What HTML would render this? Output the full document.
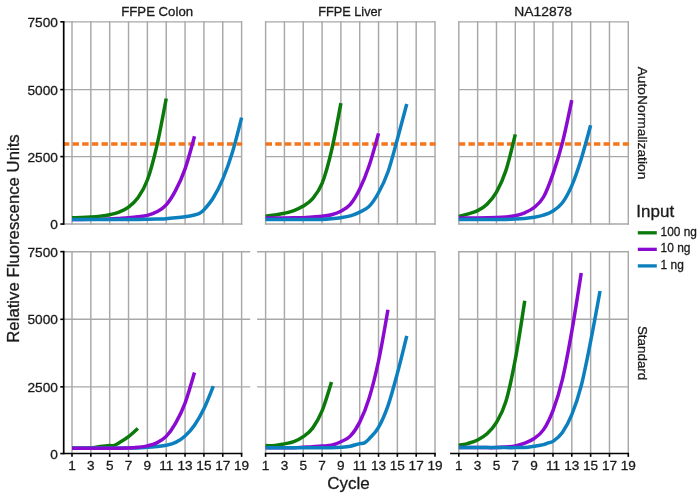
<!DOCTYPE html>
<html lang="en"><head><meta charset="utf-8"><title>Amplification curves</title>
<style>html,body{margin:0;padding:0;background:#fff}body{width:700px;height:498px;overflow:hidden}svg{display:block;filter:blur(0.35px)}text{font-family:"Liberation Sans", Arial, sans-serif;fill:#1a1a1a;stroke:#1a1a1a;stroke-width:0.3px}</style>
</head><body>
<svg width="700" height="498" viewBox="0 0 700 498">
<rect width="700" height="498" fill="#fff"/>
<g fill="none">
<line x1="72.00" y1="21.12" x2="72.00" y2="224.78" stroke="#a8a8a8" stroke-width="1.45"/>
<line x1="90.84" y1="21.12" x2="90.84" y2="224.78" stroke="#a8a8a8" stroke-width="1.45"/>
<line x1="109.69" y1="21.12" x2="109.69" y2="224.78" stroke="#a8a8a8" stroke-width="1.45"/>
<line x1="128.53" y1="21.12" x2="128.53" y2="224.78" stroke="#a8a8a8" stroke-width="1.45"/>
<line x1="147.38" y1="21.12" x2="147.38" y2="224.78" stroke="#a8a8a8" stroke-width="1.45"/>
<line x1="166.22" y1="21.12" x2="166.22" y2="224.78" stroke="#a8a8a8" stroke-width="1.45"/>
<line x1="185.07" y1="21.12" x2="185.07" y2="224.78" stroke="#a8a8a8" stroke-width="1.45"/>
<line x1="203.91" y1="21.12" x2="203.91" y2="224.78" stroke="#a8a8a8" stroke-width="1.45"/>
<line x1="222.76" y1="21.12" x2="222.76" y2="224.78" stroke="#a8a8a8" stroke-width="1.45"/>
<line x1="241.60" y1="21.12" x2="241.60" y2="224.78" stroke="#a8a8a8" stroke-width="1.45"/>
<line x1="63.70" y1="21.85" x2="241.60" y2="21.85" stroke="#a8a8a8" stroke-width="1.45"/>
<line x1="63.70" y1="89.60" x2="241.60" y2="89.60" stroke="#a8a8a8" stroke-width="1.45"/>
<line x1="63.70" y1="156.60" x2="241.60" y2="156.60" stroke="#a8a8a8" stroke-width="1.45"/>
<line x1="63.70" y1="224.05" x2="242.32" y2="224.05" stroke="#a8a8a8" stroke-width="1.45"/>
<line x1="265.60" y1="21.12" x2="265.60" y2="224.78" stroke="#a8a8a8" stroke-width="1.45"/>
<line x1="284.42" y1="21.12" x2="284.42" y2="224.78" stroke="#a8a8a8" stroke-width="1.45"/>
<line x1="303.24" y1="21.12" x2="303.24" y2="224.78" stroke="#a8a8a8" stroke-width="1.45"/>
<line x1="322.07" y1="21.12" x2="322.07" y2="224.78" stroke="#a8a8a8" stroke-width="1.45"/>
<line x1="340.89" y1="21.12" x2="340.89" y2="224.78" stroke="#a8a8a8" stroke-width="1.45"/>
<line x1="359.71" y1="21.12" x2="359.71" y2="224.78" stroke="#a8a8a8" stroke-width="1.45"/>
<line x1="378.53" y1="21.12" x2="378.53" y2="224.78" stroke="#a8a8a8" stroke-width="1.45"/>
<line x1="397.36" y1="21.12" x2="397.36" y2="224.78" stroke="#a8a8a8" stroke-width="1.45"/>
<line x1="416.18" y1="21.12" x2="416.18" y2="224.78" stroke="#a8a8a8" stroke-width="1.45"/>
<line x1="435.00" y1="21.12" x2="435.00" y2="224.78" stroke="#a8a8a8" stroke-width="1.45"/>
<line x1="265.60" y1="21.85" x2="435.00" y2="21.85" stroke="#a8a8a8" stroke-width="1.45"/>
<line x1="265.60" y1="89.60" x2="435.00" y2="89.60" stroke="#a8a8a8" stroke-width="1.45"/>
<line x1="265.60" y1="156.60" x2="435.00" y2="156.60" stroke="#a8a8a8" stroke-width="1.45"/>
<line x1="265.60" y1="224.05" x2="435.73" y2="224.05" stroke="#a8a8a8" stroke-width="1.45"/>
<line x1="458.80" y1="21.12" x2="458.80" y2="224.78" stroke="#a8a8a8" stroke-width="1.45"/>
<line x1="477.63" y1="21.12" x2="477.63" y2="224.78" stroke="#a8a8a8" stroke-width="1.45"/>
<line x1="496.47" y1="21.12" x2="496.47" y2="224.78" stroke="#a8a8a8" stroke-width="1.45"/>
<line x1="515.30" y1="21.12" x2="515.30" y2="224.78" stroke="#a8a8a8" stroke-width="1.45"/>
<line x1="534.13" y1="21.12" x2="534.13" y2="224.78" stroke="#a8a8a8" stroke-width="1.45"/>
<line x1="552.97" y1="21.12" x2="552.97" y2="224.78" stroke="#a8a8a8" stroke-width="1.45"/>
<line x1="571.80" y1="21.12" x2="571.80" y2="224.78" stroke="#a8a8a8" stroke-width="1.45"/>
<line x1="590.63" y1="21.12" x2="590.63" y2="224.78" stroke="#a8a8a8" stroke-width="1.45"/>
<line x1="609.47" y1="21.12" x2="609.47" y2="224.78" stroke="#a8a8a8" stroke-width="1.45"/>
<line x1="628.30" y1="21.12" x2="628.30" y2="224.78" stroke="#a8a8a8" stroke-width="1.45"/>
<line x1="458.80" y1="21.85" x2="628.30" y2="21.85" stroke="#a8a8a8" stroke-width="1.45"/>
<line x1="458.80" y1="89.60" x2="628.30" y2="89.60" stroke="#a8a8a8" stroke-width="1.45"/>
<line x1="458.80" y1="156.60" x2="628.30" y2="156.60" stroke="#a8a8a8" stroke-width="1.45"/>
<line x1="458.80" y1="224.05" x2="629.02" y2="224.05" stroke="#a8a8a8" stroke-width="1.45"/>
<line x1="72.00" y1="250.93" x2="72.00" y2="453.56" stroke="#a8a8a8" stroke-width="1.45"/>
<line x1="90.84" y1="250.93" x2="90.84" y2="453.56" stroke="#a8a8a8" stroke-width="1.45"/>
<line x1="109.69" y1="250.93" x2="109.69" y2="453.56" stroke="#a8a8a8" stroke-width="1.45"/>
<line x1="128.53" y1="250.93" x2="128.53" y2="453.56" stroke="#a8a8a8" stroke-width="1.45"/>
<line x1="147.38" y1="250.93" x2="147.38" y2="453.56" stroke="#a8a8a8" stroke-width="1.45"/>
<line x1="166.22" y1="250.93" x2="166.22" y2="453.56" stroke="#a8a8a8" stroke-width="1.45"/>
<line x1="185.07" y1="250.93" x2="185.07" y2="453.56" stroke="#a8a8a8" stroke-width="1.45"/>
<line x1="203.91" y1="250.93" x2="203.91" y2="453.56" stroke="#a8a8a8" stroke-width="1.45"/>
<line x1="222.76" y1="250.93" x2="222.76" y2="453.56" stroke="#a8a8a8" stroke-width="1.45"/>
<line x1="241.60" y1="250.93" x2="241.60" y2="453.56" stroke="#a8a8a8" stroke-width="1.45"/>
<line x1="63.70" y1="251.65" x2="250.20" y2="251.65" stroke="#a8a8a8" stroke-width="1.45"/>
<line x1="63.70" y1="319.30" x2="250.20" y2="319.30" stroke="#a8a8a8" stroke-width="1.45"/>
<line x1="63.70" y1="386.85" x2="250.20" y2="386.85" stroke="#a8a8a8" stroke-width="1.45"/>
<line x1="265.60" y1="250.93" x2="265.60" y2="453.56" stroke="#a8a8a8" stroke-width="1.45"/>
<line x1="284.42" y1="250.93" x2="284.42" y2="453.56" stroke="#a8a8a8" stroke-width="1.45"/>
<line x1="303.24" y1="250.93" x2="303.24" y2="453.56" stroke="#a8a8a8" stroke-width="1.45"/>
<line x1="322.07" y1="250.93" x2="322.07" y2="453.56" stroke="#a8a8a8" stroke-width="1.45"/>
<line x1="340.89" y1="250.93" x2="340.89" y2="453.56" stroke="#a8a8a8" stroke-width="1.45"/>
<line x1="359.71" y1="250.93" x2="359.71" y2="453.56" stroke="#a8a8a8" stroke-width="1.45"/>
<line x1="378.53" y1="250.93" x2="378.53" y2="453.56" stroke="#a8a8a8" stroke-width="1.45"/>
<line x1="397.36" y1="250.93" x2="397.36" y2="453.56" stroke="#a8a8a8" stroke-width="1.45"/>
<line x1="416.18" y1="250.93" x2="416.18" y2="453.56" stroke="#a8a8a8" stroke-width="1.45"/>
<line x1="435.00" y1="250.93" x2="435.00" y2="453.56" stroke="#a8a8a8" stroke-width="1.45"/>
<line x1="257.10" y1="251.65" x2="435.00" y2="251.65" stroke="#a8a8a8" stroke-width="1.45"/>
<line x1="257.10" y1="319.30" x2="435.00" y2="319.30" stroke="#a8a8a8" stroke-width="1.45"/>
<line x1="257.10" y1="386.85" x2="435.00" y2="386.85" stroke="#a8a8a8" stroke-width="1.45"/>
<line x1="458.80" y1="250.93" x2="458.80" y2="453.56" stroke="#a8a8a8" stroke-width="1.45"/>
<line x1="477.63" y1="250.93" x2="477.63" y2="453.56" stroke="#a8a8a8" stroke-width="1.45"/>
<line x1="496.47" y1="250.93" x2="496.47" y2="453.56" stroke="#a8a8a8" stroke-width="1.45"/>
<line x1="515.30" y1="250.93" x2="515.30" y2="453.56" stroke="#a8a8a8" stroke-width="1.45"/>
<line x1="534.13" y1="250.93" x2="534.13" y2="453.56" stroke="#a8a8a8" stroke-width="1.45"/>
<line x1="552.97" y1="250.93" x2="552.97" y2="453.56" stroke="#a8a8a8" stroke-width="1.45"/>
<line x1="571.80" y1="250.93" x2="571.80" y2="453.56" stroke="#a8a8a8" stroke-width="1.45"/>
<line x1="590.63" y1="250.93" x2="590.63" y2="453.56" stroke="#a8a8a8" stroke-width="1.45"/>
<line x1="609.47" y1="250.93" x2="609.47" y2="453.56" stroke="#a8a8a8" stroke-width="1.45"/>
<line x1="628.30" y1="250.93" x2="628.30" y2="453.56" stroke="#a8a8a8" stroke-width="1.45"/>
<line x1="458.80" y1="251.65" x2="628.30" y2="251.65" stroke="#a8a8a8" stroke-width="1.45"/>
<line x1="458.80" y1="319.30" x2="628.30" y2="319.30" stroke="#a8a8a8" stroke-width="1.45"/>
<line x1="458.80" y1="386.85" x2="628.30" y2="386.85" stroke="#a8a8a8" stroke-width="1.45"/>
</g>
<line x1="62.90" y1="144.00" x2="242.10" y2="144.00" stroke="#f6751a" stroke-width="3.4" stroke-dasharray="6.4 3.25"/>
<line x1="265.60" y1="144.00" x2="435.50" y2="144.00" stroke="#f6751a" stroke-width="3.4" stroke-dasharray="6.4 3.25"/>
<line x1="458.80" y1="144.00" x2="628.80" y2="144.00" stroke="#f6751a" stroke-width="3.4" stroke-dasharray="6.4 3.25"/>
<g fill="none" stroke-width="3.5" stroke-linejoin="round" stroke-linecap="butt">
<path d="M72.00 219.38C75.14 219.38 78.28 219.39 81.42 219.38C84.56 219.38 87.70 219.36 90.84 219.33C93.99 219.30 97.13 219.28 100.27 219.22C103.41 219.16 106.55 219.11 109.69 218.98C112.83 218.85 115.97 218.63 119.11 218.44C122.25 218.25 125.39 218.09 128.53 217.82C131.67 217.55 134.81 217.24 137.96 216.82C141.10 216.41 144.24 216.17 147.38 215.34C150.52 214.51 153.66 213.58 156.80 211.83C159.94 210.08 163.08 208.39 166.22 204.82C169.36 201.24 172.50 196.39 175.64 190.39C178.79 184.39 181.93 177.82 185.07 168.81C188.21 159.80 191.35 148.05 194.49 136.31" stroke="#8b0ad2"/>
<path d="M72.00 217.82C75.14 217.73 78.28 217.69 81.42 217.55C84.56 217.41 87.70 217.22 90.84 216.98C93.99 216.75 97.13 216.50 100.27 216.12C103.41 215.74 106.55 215.36 109.69 214.69C112.83 214.02 115.97 213.37 119.11 212.10C122.25 210.83 125.39 209.47 128.53 207.08C131.67 204.70 134.81 202.29 137.96 197.78C141.10 193.27 144.24 188.63 147.38 180.00C150.52 171.38 153.66 159.59 156.80 146.02C159.94 132.44 163.08 115.49 166.22 98.54" stroke="#0b7a0b"/>
<path d="M72.00 219.60C75.14 219.60 78.28 219.60 81.42 219.60C84.56 219.60 87.70 219.60 90.84 219.60C93.99 219.60 97.13 219.60 100.27 219.60C103.41 219.60 106.55 219.60 109.69 219.60C112.83 219.60 115.97 219.60 119.11 219.60C122.25 219.60 125.39 219.59 128.53 219.57C131.67 219.56 134.81 219.53 137.96 219.49C141.10 219.45 144.24 219.40 147.38 219.33C150.52 219.26 153.66 219.17 156.80 219.06C159.94 218.95 163.08 218.89 166.22 218.68C169.36 218.48 172.50 218.15 175.64 217.82C178.79 217.49 181.93 217.16 185.07 216.69C188.21 216.21 191.35 215.65 194.49 214.96C196.06 214.62 197.63 214.42 199.20 213.58C200.77 212.75 202.34 211.70 203.91 209.94C207.05 206.43 210.19 202.91 213.33 197.78C216.47 192.65 219.61 186.63 222.76 179.17C225.90 171.71 229.04 163.29 232.18 153.03C235.32 142.77 238.46 130.18 241.60 117.59" stroke="#0c80bf"/>
<path d="M265.60 216.12C268.74 215.73 271.87 215.44 275.01 214.96C278.15 214.48 281.29 213.98 284.42 213.26C287.56 212.55 290.70 211.87 293.83 210.67C296.97 209.48 300.11 208.11 303.24 206.09C306.38 204.06 309.52 202.28 312.66 198.51C315.79 194.74 318.93 191.39 322.07 183.46C325.20 175.52 328.34 164.26 331.48 150.87C334.61 137.48 337.75 120.31 340.89 103.13" stroke="#0b7a0b"/>
<path d="M265.60 217.98C268.74 217.98 271.87 217.99 275.01 217.98C278.15 217.98 281.29 217.97 284.42 217.95C287.56 217.94 290.70 217.93 293.83 217.87C296.97 217.82 300.11 217.77 303.24 217.63C306.38 217.49 309.52 217.22 312.66 217.01C315.79 216.80 318.93 216.75 322.07 216.36C325.20 215.98 328.34 215.55 331.48 214.69C334.61 213.84 337.75 212.97 340.89 211.24C344.03 209.50 347.16 208.00 350.30 204.28C353.44 200.56 356.57 195.33 359.71 188.90C362.85 182.48 365.99 174.97 369.12 165.71C372.26 156.45 375.40 144.89 378.53 133.34" stroke="#8b0ad2"/>
<path d="M265.60 219.44C268.74 219.44 271.87 219.44 275.01 219.44C278.15 219.44 281.29 219.44 284.42 219.44C287.56 219.44 290.70 219.44 293.83 219.44C296.97 219.44 300.11 219.44 303.24 219.44C306.38 219.44 309.52 219.45 312.66 219.44C315.79 219.43 318.93 219.49 322.07 219.38C325.20 219.28 328.34 219.07 331.48 218.79C334.61 218.51 337.75 218.20 340.89 217.71C344.03 217.23 347.16 216.81 350.30 215.88C353.44 214.94 356.57 213.68 359.71 212.10C362.85 210.52 365.99 209.61 369.12 206.38C372.26 203.16 375.40 198.49 378.53 192.76C381.67 187.03 384.81 180.93 387.94 172.02C391.08 163.10 394.22 150.62 397.36 139.27C400.49 127.93 403.63 115.93 406.77 103.94" stroke="#0c80bf"/>
<path d="M458.80 216.39C461.94 215.54 465.08 214.78 468.22 213.83C471.36 212.87 474.49 212.27 477.63 210.67C480.77 209.07 483.91 207.33 487.05 204.23C490.19 201.12 493.33 197.67 496.47 192.06C499.61 186.45 502.74 180.20 505.88 170.59C509.02 160.98 512.16 147.70 515.30 134.42" stroke="#0b7a0b"/>
<path d="M458.80 217.98C461.94 217.98 465.08 217.99 468.22 217.98C471.36 217.98 474.49 217.98 477.63 217.95C480.77 217.93 483.91 217.89 487.05 217.82C490.19 217.75 493.33 217.69 496.47 217.55C499.61 217.41 502.74 217.27 505.88 216.96C509.02 216.65 512.16 216.38 515.30 215.69C518.44 215.00 521.58 214.19 524.72 212.83C527.86 211.47 530.99 210.15 534.13 207.52C537.27 204.88 540.41 202.62 543.55 197.00C546.69 191.38 549.83 182.81 552.97 173.80C556.11 164.79 559.24 155.21 562.38 142.91C565.52 130.62 568.66 115.32 571.80 100.03" stroke="#8b0ad2"/>
<path d="M458.80 219.52C461.94 219.52 465.08 219.52 468.22 219.52C471.36 219.52 474.49 219.52 477.63 219.52C480.77 219.52 483.91 219.52 487.05 219.52C490.19 219.51 493.33 219.51 496.47 219.49C499.61 219.47 502.74 219.46 505.88 219.38C509.02 219.31 512.16 219.22 515.30 219.06C518.44 218.90 521.58 218.71 524.72 218.41C527.86 218.11 530.99 217.80 534.13 217.25C537.27 216.70 540.41 216.16 543.55 215.12C546.69 214.08 549.83 213.08 552.97 211.02C556.11 208.97 559.24 207.03 562.38 202.80C565.52 198.56 568.66 192.92 571.80 185.61C574.94 178.31 578.08 169.03 581.22 158.96C584.36 148.90 587.49 137.08 590.63 125.25" stroke="#0c80bf"/>
<path d="M72.00 448.35C75.14 448.35 78.28 448.40 81.42 448.35C84.56 448.31 87.70 448.38 90.84 448.08C93.99 447.78 97.13 446.97 100.27 446.55C103.41 446.12 106.55 445.74 109.69 445.52C110.95 445.44 112.20 446.01 113.46 445.66C115.34 445.13 117.23 443.98 119.11 442.86C122.25 440.99 125.39 439.10 128.53 436.69C131.67 434.29 134.81 431.36 137.96 428.43" stroke="#0b7a0b"/>
<path d="M72.00 447.89C75.14 447.89 78.28 447.89 81.42 447.89C84.56 447.89 87.70 447.89 90.84 447.89C93.99 447.89 97.13 447.88 100.27 447.89C103.41 447.90 106.55 447.93 109.69 447.95C112.83 447.96 115.97 447.98 119.11 448.00C122.25 448.02 125.39 448.06 128.53 448.05C131.67 448.05 134.81 448.08 137.96 447.95C141.10 447.81 144.24 447.51 147.38 447.25C150.52 446.99 153.66 446.71 156.80 446.39C159.94 446.06 163.08 445.94 166.22 445.28C169.36 444.62 172.50 443.98 175.64 442.43C178.79 440.88 181.93 438.86 185.07 435.99C188.21 433.13 191.35 429.79 194.49 425.25C197.63 420.72 200.77 415.30 203.91 408.78C207.05 402.25 210.19 394.18 213.33 386.11" stroke="#0c80bf"/>
<path d="M72.00 448.22C75.14 448.22 78.28 448.22 81.42 448.22C84.56 448.22 87.70 448.22 90.84 448.22C93.99 448.22 97.13 448.22 100.27 448.22C103.41 448.22 106.55 448.22 109.69 448.22C112.83 448.22 115.97 448.24 119.11 448.22C122.25 448.19 125.39 448.24 128.53 448.08C131.67 447.92 134.81 447.65 137.96 447.27C141.10 446.90 144.24 446.59 147.38 445.85C150.52 445.11 153.66 444.41 156.80 442.83C159.94 441.25 163.08 439.66 166.22 436.37C169.36 433.08 172.50 428.65 175.64 423.10C178.79 417.55 181.93 411.49 185.07 403.04C188.21 394.60 191.35 383.50 194.49 372.41" stroke="#8b0ad2"/>
<path d="M265.60 445.58C268.74 445.58 271.87 445.86 275.01 445.58C278.15 445.29 281.29 444.50 284.42 443.85C287.56 443.21 290.70 442.89 293.83 441.70C296.97 440.51 300.11 438.96 303.24 436.69C306.38 434.43 309.52 432.40 312.66 428.11C315.79 423.81 318.93 418.60 322.07 410.93C325.20 403.26 328.34 392.67 331.48 382.07" stroke="#0b7a0b"/>
<path d="M265.60 447.87C268.74 447.87 271.87 447.87 275.01 447.87C278.15 447.86 281.29 447.87 284.42 447.84C287.56 447.81 290.70 447.79 293.83 447.68C296.97 447.57 300.11 447.35 303.24 447.19C306.38 447.04 309.52 446.93 312.66 446.74C315.79 446.54 318.93 446.25 322.07 446.01C325.20 445.77 328.34 446.00 331.48 445.28C334.61 444.56 337.75 443.23 340.89 441.70C344.03 440.17 347.16 439.37 350.30 436.10C353.44 432.84 356.57 428.43 359.71 422.10C362.85 415.78 365.99 408.33 369.12 398.14C372.26 387.96 375.40 375.73 378.53 361.00C381.67 346.26 384.81 328.00 387.94 309.74" stroke="#8b0ad2"/>
<path d="M265.60 447.87C268.74 447.87 271.87 447.87 275.01 447.87C278.15 447.87 281.29 447.87 284.42 447.87C287.56 447.87 290.70 447.87 293.83 447.87C296.97 447.87 300.11 447.87 303.24 447.87C306.38 447.87 309.52 447.87 312.66 447.87C315.79 447.87 318.93 447.88 322.07 447.87C325.20 447.85 328.34 447.88 331.48 447.79C334.61 447.69 337.75 447.54 340.89 447.27C344.03 447.00 347.16 446.78 350.30 446.17C353.44 445.56 356.57 444.38 359.71 443.64C361.28 443.27 362.85 443.63 364.42 442.83C365.99 442.03 367.55 440.56 369.12 438.85C372.26 435.41 375.40 432.87 378.53 427.38C381.67 421.89 384.81 414.90 387.94 405.90C391.08 396.90 394.22 385.06 397.36 373.38C400.49 361.70 403.63 348.76 406.77 335.82" stroke="#0c80bf"/>
<path d="M458.80 445.39C461.94 444.72 465.08 444.27 468.22 443.37C471.36 442.47 474.49 441.59 477.63 440.01C480.77 438.42 483.91 436.78 487.05 433.84C490.19 430.90 493.33 427.74 496.47 422.37C499.61 417.00 502.74 412.12 505.88 401.62C509.02 391.12 512.16 376.17 515.30 359.38C518.44 342.59 521.58 321.72 524.72 300.86" stroke="#0b7a0b"/>
<path d="M458.80 447.62C461.94 447.62 465.08 447.62 468.22 447.62C471.36 447.62 474.49 447.62 477.63 447.62C480.77 447.62 483.91 447.63 487.05 447.62C490.19 447.61 493.33 447.70 496.47 447.57C499.61 447.44 502.74 447.14 505.88 446.87C509.02 446.60 512.16 446.55 515.30 445.93C518.44 445.31 521.58 444.39 524.72 443.16C527.86 441.92 530.99 440.78 534.13 438.52C537.27 436.27 540.41 434.31 543.55 429.64C546.69 424.98 549.83 418.87 552.97 410.53C556.11 402.18 559.24 392.76 562.38 379.57C565.52 366.38 568.66 349.14 571.80 331.38C574.94 313.63 578.08 293.34 581.22 273.05" stroke="#8b0ad2"/>
<path d="M458.80 447.62C461.94 447.62 465.08 447.62 468.22 447.62C471.36 447.62 474.49 447.62 477.63 447.62C480.77 447.62 483.91 447.62 487.05 447.62C490.19 447.62 493.33 447.62 496.47 447.62C499.61 447.62 502.74 447.62 505.88 447.62C509.02 447.62 512.16 447.65 515.30 447.62C518.44 447.60 521.58 447.70 524.72 447.46C527.86 447.22 530.99 446.68 534.13 446.20C537.27 445.72 540.41 445.32 543.55 444.58C545.12 444.21 546.69 443.38 548.26 442.86C549.83 442.33 551.40 442.59 552.97 441.43C556.11 439.11 559.24 436.89 562.38 432.41C565.52 427.94 568.66 422.34 571.80 414.57C574.94 406.79 578.08 397.97 581.22 385.76C584.36 373.56 587.49 357.14 590.63 341.34C593.77 325.55 596.91 308.28 600.05 291.00" stroke="#0c80bf"/>
</g>
<g fill="none" stroke="#000">
<line x1="63.70" y1="21.05" x2="63.70" y2="224.85" stroke-width="1.7"/>
<line x1="60.30" y1="21.85" x2="63.70" y2="21.85" stroke-width="1.6"/>
<line x1="60.30" y1="89.60" x2="63.70" y2="89.60" stroke-width="1.6"/>
<line x1="60.30" y1="156.60" x2="63.70" y2="156.60" stroke-width="1.6"/>
<line x1="60.30" y1="224.05" x2="63.70" y2="224.05" stroke-width="1.6"/>
<line x1="63.70" y1="250.85" x2="63.70" y2="454.36" stroke-width="1.7"/>
<line x1="60.30" y1="251.65" x2="63.70" y2="251.65" stroke-width="1.6"/>
<line x1="60.30" y1="319.30" x2="63.70" y2="319.30" stroke-width="1.6"/>
<line x1="60.30" y1="386.85" x2="63.70" y2="386.85" stroke-width="1.6"/>
<line x1="60.30" y1="453.56" x2="63.70" y2="453.56" stroke-width="1.6"/>
<line x1="63.70" y1="453.56" x2="242.40" y2="453.56" stroke-width="1.6"/>
<line x1="72.00" y1="453.56" x2="72.00" y2="456.86" stroke-width="1.6"/>
<line x1="90.84" y1="453.56" x2="90.84" y2="456.86" stroke-width="1.6"/>
<line x1="109.69" y1="453.56" x2="109.69" y2="456.86" stroke-width="1.6"/>
<line x1="128.53" y1="453.56" x2="128.53" y2="456.86" stroke-width="1.6"/>
<line x1="147.38" y1="453.56" x2="147.38" y2="456.86" stroke-width="1.6"/>
<line x1="166.22" y1="453.56" x2="166.22" y2="456.86" stroke-width="1.6"/>
<line x1="185.07" y1="453.56" x2="185.07" y2="456.86" stroke-width="1.6"/>
<line x1="203.91" y1="453.56" x2="203.91" y2="456.86" stroke-width="1.6"/>
<line x1="222.76" y1="453.56" x2="222.76" y2="456.86" stroke-width="1.6"/>
<line x1="241.60" y1="453.56" x2="241.60" y2="456.86" stroke-width="1.6"/>
<line x1="264.80" y1="453.56" x2="435.80" y2="453.56" stroke-width="1.6"/>
<line x1="265.60" y1="453.56" x2="265.60" y2="456.86" stroke-width="1.6"/>
<line x1="284.42" y1="453.56" x2="284.42" y2="456.86" stroke-width="1.6"/>
<line x1="303.24" y1="453.56" x2="303.24" y2="456.86" stroke-width="1.6"/>
<line x1="322.07" y1="453.56" x2="322.07" y2="456.86" stroke-width="1.6"/>
<line x1="340.89" y1="453.56" x2="340.89" y2="456.86" stroke-width="1.6"/>
<line x1="359.71" y1="453.56" x2="359.71" y2="456.86" stroke-width="1.6"/>
<line x1="378.53" y1="453.56" x2="378.53" y2="456.86" stroke-width="1.6"/>
<line x1="397.36" y1="453.56" x2="397.36" y2="456.86" stroke-width="1.6"/>
<line x1="416.18" y1="453.56" x2="416.18" y2="456.86" stroke-width="1.6"/>
<line x1="435.00" y1="453.56" x2="435.00" y2="456.86" stroke-width="1.6"/>
<line x1="450.10" y1="453.56" x2="629.10" y2="453.56" stroke-width="1.6"/>
<line x1="458.80" y1="453.56" x2="458.80" y2="456.86" stroke-width="1.6"/>
<line x1="477.63" y1="453.56" x2="477.63" y2="456.86" stroke-width="1.6"/>
<line x1="496.47" y1="453.56" x2="496.47" y2="456.86" stroke-width="1.6"/>
<line x1="515.30" y1="453.56" x2="515.30" y2="456.86" stroke-width="1.6"/>
<line x1="534.13" y1="453.56" x2="534.13" y2="456.86" stroke-width="1.6"/>
<line x1="552.97" y1="453.56" x2="552.97" y2="456.86" stroke-width="1.6"/>
<line x1="571.80" y1="453.56" x2="571.80" y2="456.86" stroke-width="1.6"/>
<line x1="590.63" y1="453.56" x2="590.63" y2="456.86" stroke-width="1.6"/>
<line x1="609.47" y1="453.56" x2="609.47" y2="456.86" stroke-width="1.6"/>
<line x1="628.30" y1="453.56" x2="628.30" y2="456.86" stroke-width="1.6"/>
</g>
<text font-size="13.7" text-anchor="end" x="57.90" y="26.95">7500</text>
<text font-size="13.7" text-anchor="end" x="57.90" y="94.70">5000</text>
<text font-size="13.7" text-anchor="end" x="57.90" y="161.70">2500</text>
<text font-size="13.7" text-anchor="end" x="57.90" y="229.15">0</text>
<text font-size="13.7" text-anchor="end" x="57.90" y="256.75">7500</text>
<text font-size="13.7" text-anchor="end" x="57.90" y="324.40">5000</text>
<text font-size="13.7" text-anchor="end" x="57.90" y="391.95">2500</text>
<text font-size="13.7" text-anchor="end" x="57.90" y="458.66">0</text>
<text font-size="13.6" text-anchor="middle" x="72.00" y="469.50">1</text>
<text font-size="13.6" text-anchor="middle" x="90.84" y="469.50">3</text>
<text font-size="13.6" text-anchor="middle" x="109.69" y="469.50">5</text>
<text font-size="13.6" text-anchor="middle" x="128.53" y="469.50">7</text>
<text font-size="13.6" text-anchor="middle" x="147.38" y="469.50">9</text>
<text font-size="13.6" text-anchor="middle" x="166.22" y="469.50">11</text>
<text font-size="13.6" text-anchor="middle" x="185.07" y="469.50">13</text>
<text font-size="13.6" text-anchor="middle" x="203.91" y="469.50">15</text>
<text font-size="13.6" text-anchor="middle" x="222.76" y="469.50">17</text>
<text font-size="13.6" text-anchor="middle" x="241.60" y="469.50">19</text>
<text font-size="13.6" text-anchor="middle" x="265.60" y="469.50">1</text>
<text font-size="13.6" text-anchor="middle" x="284.42" y="469.50">3</text>
<text font-size="13.6" text-anchor="middle" x="303.24" y="469.50">5</text>
<text font-size="13.6" text-anchor="middle" x="322.07" y="469.50">7</text>
<text font-size="13.6" text-anchor="middle" x="340.89" y="469.50">9</text>
<text font-size="13.6" text-anchor="middle" x="359.71" y="469.50">11</text>
<text font-size="13.6" text-anchor="middle" x="378.53" y="469.50">13</text>
<text font-size="13.6" text-anchor="middle" x="397.36" y="469.50">15</text>
<text font-size="13.6" text-anchor="middle" x="416.18" y="469.50">17</text>
<text font-size="13.6" text-anchor="middle" x="435.00" y="469.50">19</text>
<text font-size="13.6" text-anchor="middle" x="458.80" y="469.50">1</text>
<text font-size="13.6" text-anchor="middle" x="477.63" y="469.50">3</text>
<text font-size="13.6" text-anchor="middle" x="496.47" y="469.50">5</text>
<text font-size="13.6" text-anchor="middle" x="515.30" y="469.50">7</text>
<text font-size="13.6" text-anchor="middle" x="534.13" y="469.50">9</text>
<text font-size="13.6" text-anchor="middle" x="552.97" y="469.50">11</text>
<text font-size="13.6" text-anchor="middle" x="571.80" y="469.50">13</text>
<text font-size="13.6" text-anchor="middle" x="590.63" y="469.50">15</text>
<text font-size="13.6" text-anchor="middle" x="609.47" y="469.50">17</text>
<text font-size="13.6" text-anchor="middle" x="628.30" y="469.50">19</text>
<text font-size="13.2" text-anchor="middle" x="157.15" y="16.40">FFPE Colon</text>
<text font-size="13.2" text-anchor="middle" textLength="63.71" lengthAdjust="spacingAndGlyphs" x="350.00" y="16.40">FFPE Liver</text>
<text font-size="13.2" text-anchor="middle" textLength="57.75" lengthAdjust="spacingAndGlyphs" x="543.20" y="16.40">NA12878</text>
<text font-size="13.4" text-anchor="middle" textLength="112.70" lengthAdjust="spacingAndGlyphs" transform="translate(637.90 123.00) rotate(90)">AutoNormalization</text>
<text font-size="13.4" text-anchor="middle" transform="translate(637.90 353.10) rotate(90)">Standard</text>
<text font-size="17" text-anchor="middle" textLength="208.48" lengthAdjust="spacingAndGlyphs" transform="translate(18.50 238.50) rotate(-90)">Relative Fluorescence Units</text>
<text font-size="17" text-anchor="middle" x="348.40" y="488.90">Cycle</text>
<text font-size="17" text-anchor="start" x="636.30" y="216.80">Input</text>
<text font-size="12.3" text-anchor="start" textLength="36.31" lengthAdjust="spacingAndGlyphs" x="660.60" y="235.90">100 ng</text>
<text font-size="12.3" text-anchor="start" textLength="29.86" lengthAdjust="spacingAndGlyphs" x="660.60" y="252.45">10 ng</text>
<text font-size="12.3" text-anchor="start" textLength="23.22" lengthAdjust="spacingAndGlyphs" x="660.60" y="269.00">1 ng</text>
<line x1="637.8" y1="232.80" x2="656.8" y2="232.80" stroke="#0b7a0b" stroke-width="3.3"/>
<line x1="637.8" y1="249.35" x2="656.8" y2="249.35" stroke="#8b0ad2" stroke-width="3.3"/>
<line x1="637.8" y1="265.90" x2="656.8" y2="265.90" stroke="#0c80bf" stroke-width="3.3"/>
</svg>
</body></html>
